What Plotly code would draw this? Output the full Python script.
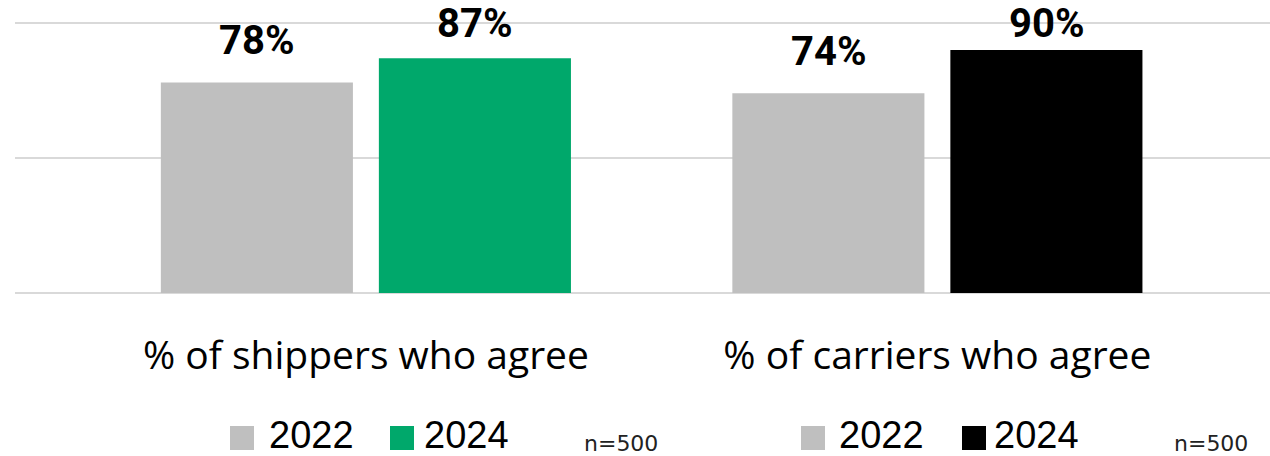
import plotly.graph_objects as go

# ---- data ----
categories = ["% of shippers who agree", "% of carriers who agree"]
years = ["2022", "2024"]
values_2022 = [78, 74]
values_2024 = [87, 90]
sample_note = "n=500"

# ---- styling ----
GRAY = "#bfbfbf"
GREEN = "#00a86b"
BLACK = "#000000"
colors_2022 = [GRAY, GRAY]
colors_2024 = [GREEN, BLACK]

W, H = 1270, 456
M_L, M_R, M_T, M_B = 15, 0, 22, 163
PLOT_W = W - M_L - M_R
PLOT_H = H - M_T - M_B
Y_MAX = 100.4   # a hair above 100 so the top gridline is drawn

BARGAP = 0.237
BARGROUPGAP = 0.119
LABEL_PAD = 6.0      # data units between bar top and its label box
LABEL_CEIL = 90.5    # labels never rise above this (kept inside the chart area)

VALUE_FONT = dict(family="Roboto", size=40, color="black", weight=700)
CAT_FONT = dict(family="Open Sans", size=39, color="black")
LEGEND_FONT = dict(family="Liberation Sans", size=38, color="black")
NOTE_FONT = dict(family="DejaVu Sans", size=22, color="#222222")


def px_x(px):
    """Pixel column -> paper x."""
    return (px - M_L) / PLOT_W


def px_y(py):
    """Pixel row -> paper y."""
    return (H - M_B - py) / PLOT_H


fig = go.Figure()
for yr, vals, cols in [(years[0], values_2022, colors_2022),
                       (years[1], values_2024, colors_2024)]:
    fig.add_trace(go.Bar(
        name=yr, x=categories, y=vals,
        marker=dict(color=cols, line=dict(width=0)),
        showlegend=False, hoverinfo="skip",
    ))

# value labels above each bar
offset = (1 - BARGAP) / 4
annotations = []
for i in range(len(categories)):
    for sign, vals in [(-1, values_2022), (1, values_2024)]:
        v = vals[i]
        annotations.append(dict(
            x=i + sign * offset, y=min(v + LABEL_PAD, LABEL_CEIL),
            xref="x", yref="y", text=f"{v}%", showarrow=False,
            xanchor="center", yanchor="bottom", font=VALUE_FONT,
        ))

# per-panel legends (square swatch + year) and sample size notes
legend_rows = [
    # (swatch left px, text left px, color, label)
    (230, 267, colors_2022[0], years[0]),
    (390, 422, colors_2024[0], years[1]),
    (801, 837, colors_2022[1], years[0]),
    (962, 992, colors_2024[1], years[1]),
]
SW = 24
SW_TOP = 426
shapes = []
for sx, tx, col, lab in legend_rows:
    shapes.append(dict(
        type="rect", xref="paper", yref="paper",
        x0=px_x(sx), x1=px_x(sx + SW), y0=px_y(SW_TOP + SW), y1=px_y(SW_TOP),
        fillcolor=col, line=dict(width=0), layer="above",
    ))
    annotations.append(dict(
        x=px_x(tx), y=px_y(435), xref="paper", yref="paper", text=lab,
        showarrow=False, xanchor="left", yanchor="middle", font=LEGEND_FONT,
    ))

for nx in (582, 1172):
    annotations.append(dict(
        x=px_x(nx), y=px_y(443), xref="paper", yref="paper", text=sample_note,
        showarrow=False, xanchor="left", yanchor="middle", font=NOTE_FONT,
    ))

fig.update_layout(
    width=W, height=H,
    margin=dict(l=M_L, r=M_R, t=M_T, b=M_B, pad=0),
    paper_bgcolor="white", plot_bgcolor="white",
    barmode="group", bargap=BARGAP, bargroupgap=BARGROUPGAP,
    showlegend=False,
    annotations=annotations, shapes=shapes,
    xaxis=dict(
        type="category", range=[-0.614, 1.582],
        showgrid=False, showline=False, zeroline=False, ticks="",
        tickfont=CAT_FONT, ticklabelstandoff=36,
    ),
    yaxis=dict(
        range=[0, Y_MAX], tickvals=[0, 50, 100], showticklabels=False,
        showgrid=True, gridcolor="#d9d9d9", gridwidth=2,
        zeroline=True, zerolinecolor="#d9d9d9", zerolinewidth=2,
        showline=False, ticks="",
    ),
)

fig.write_html("out.html")
